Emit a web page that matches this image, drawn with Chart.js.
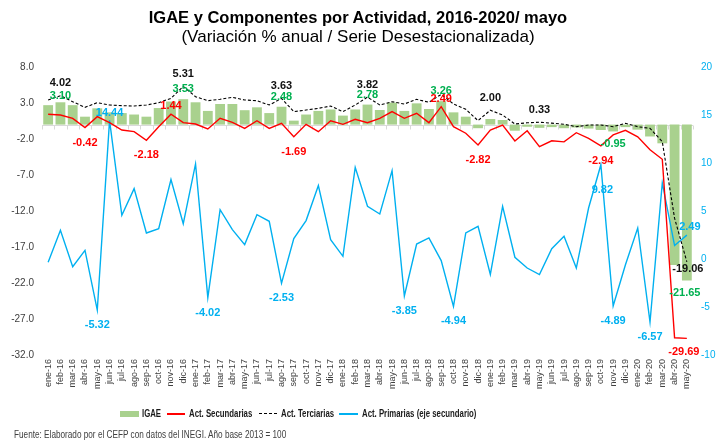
<!DOCTYPE html>
<html>
<head>
<meta charset="utf-8">
<script src="https://cdn.jsdelivr.net/npm/chart.js@4.4.1/dist/chart.umd.min.js"></script>
<style>
  html, body { margin: 0; padding: 0; background: #fff; }
  #wrap { position: relative; width: 716px; height: 441px; overflow: hidden; }
  #c { position: absolute; left: 0; top: 0; }
  .t { position: absolute; white-space: nowrap; }
  #title { left: 0; width: 716px; top: 8px; text-align: center; font: bold 16.5px 'Liberation Sans', Arial, sans-serif; color: #000; }
  #subtitle { left: 0; width: 716px; top: 27px; text-align: center; font: 17px 'Liberation Sans', Arial, sans-serif; color: #000; }
  .lg { position: absolute; top: 407px; font: bold 10px 'Liberation Sans', Arial, sans-serif; color: #1a1a1a; line-height: 13px;
        white-space: nowrap; transform: scaleX(0.78); transform-origin: 0 50%; }
  .sw { position: absolute; }
  #source { left: 14px; top: 429px; font: 10px 'Liberation Sans', Arial, sans-serif; color: #404040;
            transform: scaleX(0.82); transform-origin: 0 50%; }
</style>
</head>
<body>
<div id="wrap">
  <canvas id="c" width="716" height="441"></canvas>
  <div class="t" id="title">IGAE y Componentes por Actividad, 2016-2020/ mayo</div>
  <div class="t" id="subtitle">(Variación % anual / Serie Desestacionalizada)</div>

  <div class="sw" style="left:120px; top:411px; width:19px; height:6px; background:#A9D18E;"></div>
  <div class="lg" style="left:142px;">IGAE</div>
  <div class="sw" style="left:167px; top:413px; width:18px; height:2px; background:#FF0000;"></div>
  <div class="lg" style="left:189px;">Act. Secundarias</div>
  <div class="sw" style="left:259px; top:413px; width:18px; height:0; border-top:1px dashed #000;"></div>
  <div class="lg" style="left:281px;">Act. Terciarias</div>
  <div class="sw" style="left:339px; top:413px; width:19px; height:2px; background:#00B0F0;"></div>
  <div class="lg" style="left:362px;">Act. Primarias (eje secundario)</div>

  <div class="t" id="source">Fuente: Elaborado por el CEFP con datos del INEGI. Año base 2013 = 100</div>
</div>
<script>
// ---------------- DATA ----------------
const categories = [
  'ene-16','feb-16','mar-16','abr-16','may-16','jun-16','jul-16','ago-16','sep-16','oct-16','nov-16','dic-16',
  'ene-17','feb-17','mar-17','abr-17','may-17','jun-17','jul-17','ago-17','sep-17','oct-17','nov-17','dic-17',
  'ene-18','feb-18','mar-18','abr-18','may-18','jun-18','jul-18','ago-18','sep-18','oct-18','nov-18','dic-18',
  'ene-19','feb-19','mar-19','abr-19','may-19','jun-19','jul-19','ago-19','sep-19','oct-19','nov-19','dic-19',
  'ene-20','feb-20','mar-20','abr-20','may-20'
];

const igae = [2.70, 3.10, 2.70, 1.10, 2.26, 1.70, 1.60, 1.40, 1.10, 2.30, 3.20, 3.53,
  3.10, 1.90, 2.86, 2.86, 2.00, 2.40, 1.60, 2.48, 0.55, 1.40, 1.90, 2.10,
  1.25, 2.10, 2.78, 2.03, 3.05, 1.90, 2.95, 2.17, 3.26, 1.70, 1.10, -0.50,
  0.78, 0.64, -0.85, -0.30, -0.45, -0.35, -0.50, -0.40, -0.55, -0.75, -0.95, -0.35,
  -0.70, -1.65, -2.60, -19.50, -21.65];

const secundarias = [1.43, 1.33, 0.87, -0.42, 1.10, 0.27, -0.75, -0.98, -2.18, -0.29, 1.44, 0.27,
  0.08, -0.61, 0.87, 0.32, -0.52, 0.54, -0.52, 0.18, -1.69, 0.04, -0.98, 0.54,
  0.04, 0.74, 0.27, 0.87, 1.80, 0.87, 1.57, 0.27, 2.49, -0.29, -1.20, -2.82,
  -0.75, -0.06, -2.28, -0.85, -3.07, -2.25, -2.40, -1.13, -1.90, -2.94, -1.44, -0.79,
  -1.70, -3.50, -4.82, -29.60, -29.69];

const terciarias = [3.42, 4.02, 3.18, 2.40, 3.04, 2.72, 2.63, 2.58, 2.72, 3.04, 3.65, 5.31,
  3.88, 3.32, 3.51, 3.79, 3.42, 3.32, 2.72, 3.63, 1.80, 2.03, 2.26, 2.58,
  1.80, 2.72, 3.82, 2.72, 3.18, 2.86, 3.51, 3.10, 4.20, 2.86, 2.12, 0.55,
  2.00, 1.33, 0.08, 0.25, 0.33, 0.20, 0.05, -0.29, -0.06, -0.06, -0.29, 0.18,
  -0.29, -0.52, -2.37, -13.00, -19.06];

const primarias = [-0.34, 2.99, -0.80, 0.90, -5.32, 14.44, 4.55, 7.33, 2.71, 3.16, 8.27, 3.68,
  9.90, -4.02, 5.14, 3.06, 1.50, 4.62, 3.93, -2.53, 2.13, 4.00, 7.65, 2.02,
  0.28, 9.55, 5.49, 4.69, 9.20, -3.85, 1.56, 2.19, -0.17, -4.94, 2.71, 3.41,
  -1.60, 5.49, 0.18, -0.94, -1.63, 1.08, 2.36, -0.94, 5.31, 9.82, -4.89, -0.60,
  3.23, -6.57, 7.92, 1.40, 2.49];

// which points carry a data label (indices into the series)
const igaeLabelIdx = [1, 11, 19, 26, 32, 46, 52];
const secLabelIdx = [3, 8, 10, 20, 32, 35, 45, 52];
const terLabelIdx = [1, 11, 19, 26, 36, 40, 52];
const priLabelIdx = [4, 5, 13, 19, 29, 33, 45, 46, 49, 52];

// ---------------- STYLE ----------------
const COL = { igae: '#A9D18E', igaeTxt: '#00B050', sec: '#FF0000', ter: '#000000', pri: '#00B0F0' };
// label offsets (pixels) relative to the drawn point: [dy, dx]
function offsetFor(key, i, v) {
  if (key === 'igae') {
    if (i === 52) return [12, -2];
    if (i === 1) return [-6, 0];
    return v >= 0 ? [-10, 0] : [13, 0];
  }
  if (key === 'sec') {
    if (i === 52) return [14, -3];
    return v >= 0 ? [-8, 0] : [15, 0];
  }
  if (key === 'ter') {
    if (i === 52) return [7, 1];
    return [-12.5, 0];
  }
  if (key === 'pri') {
    if (i === 45) return [25, 1.5];
    if (i === 52) return [-8, 3];
    return v >= 0 ? [-7, 0] : [15, 0];
  }
  return [0, 0];
}

const labelPlugin = {
  id: 'valueLabels',
  afterDatasetsDraw(chart) {
    const ctx = chart.ctx;
    const groups = [
      { ds: 0, key: 'igae', idx: igaeLabelIdx, color: COL.igaeTxt, data: igae },
      { ds: 3, key: 'pri', idx: priLabelIdx, color: COL.pri, data: primarias },
      { ds: 2, key: 'ter', idx: terLabelIdx, color: '#111111', data: terciarias },
      { ds: 1, key: 'sec', idx: secLabelIdx, color: COL.sec, data: secundarias }
    ];
    ctx.save();
    ctx.font = "bold 11px 'Liberation Sans', Arial, sans-serif";
    ctx.textAlign = 'center';
    ctx.textBaseline = 'middle';
    groups.forEach(g => {
      const meta = chart.getDatasetMeta(g.ds);
      g.idx.forEach(i => {
        const el = meta.data[i];
        if (!el) return;
        const v = g.data[i];
        const [dy, dx] = offsetFor(g.key, i, v);
        ctx.fillStyle = g.color;
        ctx.fillText(v.toFixed(2), el.x + dx, el.y + dy);
      });
    });
    ctx.restore();
  }
};

const zeroLinePlugin = {
  id: 'zeroLine',
  beforeDatasetsDraw(chart) {
    const { ctx, chartArea, scales } = chart;
    const y0 = scales.y.getPixelForValue(0);
    const step = scales.x.getPixelForValue(1) - scales.x.getPixelForValue(0);
    ctx.save();
    ctx.strokeStyle = '#D9D9D9';
    ctx.lineWidth = 1;
    ctx.beginPath();
    ctx.moveTo(chartArea.left, Math.round(y0) + 0.5);
    ctx.lineTo(chartArea.right, Math.round(y0) + 0.5);
    for (let i = 0; i <= categories.length; i++) {
      const x = Math.round(scales.x.getPixelForValue(0) + (i - 0.5) * step) + 0.5;
      ctx.moveTo(x, Math.round(y0) + 0.5);
      ctx.lineTo(x, Math.round(y0) + 4.5);
    }
    ctx.stroke();
    ctx.restore();
  }
};

const chart = new Chart(document.getElementById('c'), {
  data: {
    labels: categories,
    datasets: [
      { type: 'bar', label: 'IGAE', data: igae, backgroundColor: COL.igae, borderWidth: 0,
        yAxisID: 'y', order: 4, barPercentage: 0.8, categoryPercentage: 1.0 },
      { type: 'line', label: 'Act. Secundarias', data: secundarias, borderColor: COL.sec, borderWidth: 1.4,
        pointRadius: 0, tension: 0, fill: false, yAxisID: 'y', order: 1 },
      { type: 'line', label: 'Act. Terciarias', data: terciarias, borderColor: COL.ter, borderWidth: 1.1,
        borderDash: [3, 2], pointRadius: 0, tension: 0, fill: false, yAxisID: 'y', order: 2 },
      { type: 'line', label: 'Act. Primarias (eje secundario)', data: primarias, borderColor: COL.pri, borderWidth: 1.4,
        pointRadius: 0, tension: 0, fill: false, yAxisID: 'y1', order: 3 }
    ]
  },
  options: {
    responsive: false,
    animation: false,
    devicePixelRatio: 1,
    layout: { padding: { top: 67, bottom: 36, left: 0, right: 0 } },
    plugins: { legend: { display: false }, tooltip: { enabled: false }, title: { display: false } },
    scales: {
      x: {
        type: 'category',
        offset: true,
        grid: { display: false, drawTicks: false },
        border: { display: false },
        ticks: { autoSkip: false, minRotation: 90, maxRotation: 90, padding: 4,
          color: '#404040', font: { family: "'Liberation Sans', Arial, sans-serif", size: 9 } },
        afterFit(s) { s.height = 50; }
      },
      y: {
        position: 'left',
        min: -32, max: 8,
        grid: { display: false, drawTicks: false },
        border: { display: false },
        ticks: { stepSize: 5, padding: 8, color: '#404040',
          font: { family: "'Liberation Sans', Arial, sans-serif", size: 10 },
          callback: v => Number(v).toFixed(1) },
        afterFit(s) { s.width = 42; }
      },
      y1: {
        position: 'right',
        min: -10, max: 20,
        grid: { display: false, drawTicks: false },
        border: { display: false },
        ticks: { stepSize: 5, padding: 8, color: COL.pri,
          font: { family: "'Liberation Sans', Arial, sans-serif", size: 10 },
          callback: v => String(v) },
        afterFit(s) { s.width = 23; }
      }
    }
  },
  plugins: [zeroLinePlugin, labelPlugin]
});
</script>
</body>
</html>
